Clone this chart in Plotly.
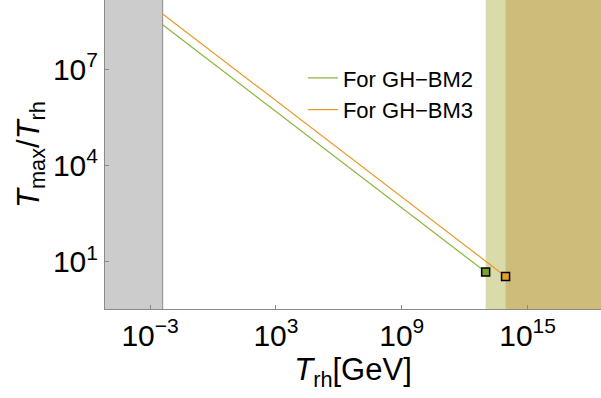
import plotly.graph_objects as go

# ---- data ----
trh_bbn = 3.98e-3          # lower bound (BBN), GeV
green_x = [3.98e-3, 1.0e13]
green_y = [2.4e8, 4.8]
orange_x = [3.98e-3, 8.9e13]
orange_y = [5.2e8, 3.5]
green_end = (1.0e13, 4.8)
orange_end = (8.9e13, 3.5)
xtick_vals = [1e-3, 1e3, 1e9, 1e15]
xtick_text = ["10<sup>−3</sup>", "10<sup>3</sup>", "10<sup>9</sup>", "10<sup>15</sup>"]
ytick_vals = [1e1, 1e4, 1e7]
ytick_text = ["10<sup>1</sup>", "10<sup>4</sup>", "10<sup>7</sup>"]
labels = ["For GH−BM2", "For GH−BM3"]

GREEN = "#8cb43c"
ORANGE = "#e89a28"
FONT = "Liberation Sans"

fig = go.Figure()
fig.add_trace(go.Scatter(x=green_x, y=green_y, mode="lines", name=labels[0],
                         line=dict(color=GREEN, width=1.2)))
fig.add_trace(go.Scatter(x=orange_x, y=orange_y, mode="lines", name=labels[1],
                         line=dict(color=ORANGE, width=1.2)))
fig.add_trace(go.Scatter(x=[green_end[0]], y=[green_end[1]], mode="markers", showlegend=False,
                         marker=dict(symbol="square", size=8, color="#7da02d",
                                     line=dict(color="black", width=1.5))))
fig.add_trace(go.Scatter(x=[orange_end[0]], y=[orange_end[1]], mode="markers", showlegend=False,
                         marker=dict(symbol="square", size=8, color="#e6a02a",
                                     line=dict(color="black", width=1.5))))

# shaded regions
fig.add_shape(type="rect", xref="x", yref="paper", x0=1e-8, x1=trh_bbn, y0=0, y1=1,
              fillcolor="#cccccc", line=dict(width=0), layer="below")
fig.add_shape(type="line", xref="x", yref="paper", x0=trh_bbn, x1=trh_bbn, y0=0, y1=1,
              line=dict(color="#8a8a8a", width=1), layer="below")
fig.add_shape(type="rect", xref="x", yref="paper", x0=green_end[0], x1=1e20, y0=0, y1=1,
              fillcolor="#d9dcaa", line=dict(width=0), layer="below")
fig.add_shape(type="rect", xref="x", yref="paper", x0=orange_end[0], x1=1e20, y0=0, y1=1,
              fillcolor="#cebd7a", line=dict(width=0), layer="below")

fig.update_layout(
    width=601, height=398,
    margin=dict(l=105, r=0, t=0, b=89),
    paper_bgcolor="white", plot_bgcolor="white",
    font=dict(family=FONT, color="black"),
    showlegend=True,
    legend=dict(x=0.399, y=0.815, xanchor="left", yanchor="top",
                bgcolor="rgba(0,0,0,0)", font=dict(size=22, family=FONT),
                tracegroupgap=0),
    xaxis=dict(type="log", range=[-5.15, 18.5], showgrid=False, zeroline=False,
               showline=True, linecolor="#8a8a8a", linewidth=1,
               ticks="inside", ticklen=4, tickcolor="#8a8a8a",
               tickvals=xtick_vals, ticktext=xtick_text,
               tickfont=dict(size=30, family=FONT), automargin=False,
               title=dict(text="<i>T</i><sub>rh</sub>[GeV]", font=dict(size=31, family=FONT),
                          standoff=4)),
    yaxis=dict(type="log", range=[-0.47, 9.15], showgrid=False, zeroline=False,
               showline=True, linecolor="#8a8a8a", linewidth=1,
               ticks="inside", ticklen=4, tickcolor="#8a8a8a",
               tickvals=ytick_vals, ticktext=ytick_text,
               tickfont=dict(size=30, family=FONT), automargin=False,
               title=dict(text="<i>T</i><sub>max</sub>/<i>T</i><sub>rh</sub>",
                          font=dict(size=31, family=FONT), standoff=4)),
)

fig.write_html("out.html")
